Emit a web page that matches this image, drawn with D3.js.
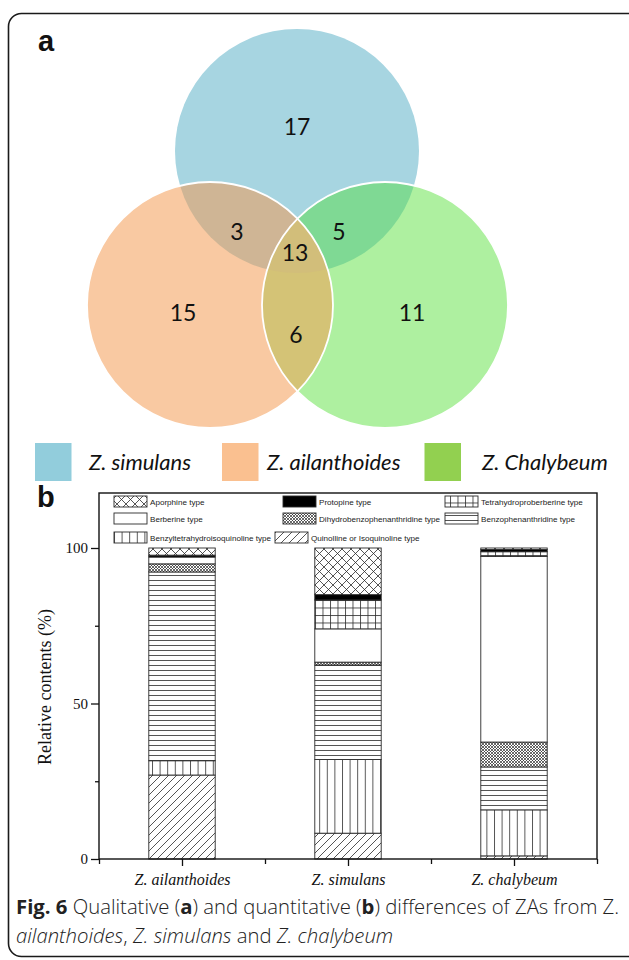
<!DOCTYPE html>
<html>
<head>
<meta charset="utf-8">
<script src="https://cdn.jsdelivr.net/npm/d3@7/dist/d3.min.js"></script>
<style>
  body { margin: 0; background: #fff; }
  svg { display: block; }
</style>
</head>
<body>
<svg id="fig" width="629" height="960"></svg>
<script>
// ---- panel a : venn counts ----
const vennSets = ["Z. simulans", "Z. ailanthoides", "Z. Chalybeum"];
const vennOnly = [17, 15, 11];           // simulans, ailanthoides, chalybeum
const vennPairs = [3, 5, 6];             // sim&ail, sim&cha, ail&cha
const vennAll = 13;
const vennColors = ["#a7d5e1", "#f9c9a2", "#aef0a0"];
const vennPairColors = ["#cfb595", "#7fd994", "#d4c376"];
const vennAllColor = "#d2be7a";
const vennLegendColors = ["#92cddc", "#fac090", "#92d050"];

// ---- panel b : relative contents (%) ----
const species = ["Z. ailanthoides", "Z. simulans", "Z. chalybeum"];
const types = ["Quinolline or Isoquinoline type", "Benzyltetrahydroisoquinoline type",
  "Benzophenanthridine type", "Dihydrobenzophenanthridine type", "Berberine type",
  "Tetrahydroproberberine type", "Protopine type", "Aporphine type"];
const quinolline = [27.0, 8.3, 1.0];
const benzyltetrahydro = [4.6, 23.7, 14.8];
const benzophenanthridine = [60.7, 30.4, 13.8];
const dihydrobenzo = [2.6, 0.9, 8.0];
const berberine = [2.2, 10.7, 59.7];
const tetrahydroprob = [0.0, 9.3, 1.5];
const protopine = [0.6, 1.7, 0.7];
const aporphine = [2.3, 15.0, 0.5];
const yTicks = [0, 50, 100];
const yMinor = [25, 75];
// legend reading order (as in the figure)
const legendOrder = ["Aporphine type", "Protopine type", "Tetrahydroproberberine type",
  "Berberine type", "Dihydrobenzophenanthridine type", "Benzophenanthridine type",
  "Benzyltetrahydroisoquinoline type", "Quinolline or Isoquinoline type"];

const svg = d3.select("#fig");
const defs = svg.append("defs");

// outer rounded frame
svg.append("rect")
  .attr("x", 8.5).attr("y", 13.5).attr("width", 660).attr("height", 943)
  .attr("rx", 13).attr("fill", "none").attr("stroke", "#1a1a1a").attr("stroke-width", 1.6);

// ================= panel a =================
const circles = [
  {cx: 297, cy: 151, r: 122},
  {cx: 210, cy: 305, r: 123},
  {cx: 385, cy: 305, r: 123}
];
circles.forEach((c, i) => {
  defs.append("clipPath").attr("id", "clip" + i)
    .append("circle").attr("cx", c.cx).attr("cy", c.cy).attr("r", c.r);
});
const va = svg.append("g");
va.selectAll("circle.base").data(circles).join("circle")
  .attr("class", "base")
  .attr("cx", d => d.cx).attr("cy", d => d.cy).attr("r", d => d.r)
  .attr("fill", (d, i) => vennColors[i]);
// pair overlaps
const pairs = [[0, 1], [0, 2], [1, 2]];
pairs.forEach((p, k) => {
  const c = circles[p[1]];
  va.append("g").attr("clip-path", `url(#clip${p[0]})`)
    .append("circle").attr("cx", c.cx).attr("cy", c.cy).attr("r", c.r)
    .attr("fill", vennPairColors[k]);
});
// triple overlap
va.append("g").attr("clip-path", "url(#clip0)")
  .append("g").attr("clip-path", "url(#clip1)")
  .append("circle").attr("cx", circles[2].cx).attr("cy", circles[2].cy).attr("r", circles[2].r)
  .attr("fill", vennAllColor);
// white outlines of the lower two sets
[1, 2].forEach(i => {
  const c = circles[i];
  va.append("circle").attr("cx", c.cx).attr("cy", c.cy).attr("r", c.r)
    .attr("fill", "none").attr("stroke", "#fff").attr("stroke-width", 1.8);
});

const vennLabels = [
  {v: vennOnly[0], x: 297, y: 126},
  {v: vennOnly[1], x: 183, y: 312},
  {v: vennOnly[2], x: 412, y: 312},
  {v: vennPairs[0], x: 237, y: 231},
  {v: vennPairs[1], x: 339, y: 231},
  {v: vennPairs[2], x: 296, y: 334},
  {v: vennAll, x: 295, y: 252}
];
va.selectAll("text.num").data(vennLabels).join("text")
  .attr("class", "num")
  .attr("x", d => d.x).attr("y", d => d.y + 8.5)
  .attr("text-anchor", "middle")
  .attr("font-family", "Lato, 'Open Sans', sans-serif")
  .attr("font-size", 23).attr("fill", "#111")
  .text(d => d.v);

svg.append("text").attr("x", 38).attr("y", 51)
  .attr("font-family", "'Liberation Sans', Arial, sans-serif")
  .attr("font-weight", "bold").attr("font-size", 29).attr("fill", "#111").text("a");

// venn legend
const vl = svg.append("g");
const vlX = [35, 222, 424.5];
const vlTextX = [89, 267, 482];
vennSets.forEach((s, i) => {
  vl.append("rect").attr("x", vlX[i]).attr("y", 443).attr("width", 36.5).attr("height", 38)
    .attr("fill", vennLegendColors[i]);
  vl.append("text").attr("x", vlTextX[i]).attr("y", 470)
    .attr("font-family", "Lato, 'Open Sans', sans-serif").attr("font-style", "italic")
    .attr("font-size", 22).attr("fill", "#111").text(s);
});

svg.append("text").attr("x", 37).attr("y", 507)
  .attr("font-family", "'Liberation Sans', Arial, sans-serif")
  .attr("font-weight", "bold").attr("font-size", 29).attr("fill", "#111").text("b");

// ================= panel b =================
const ink = "#2a2a2a";
function pat(id, w, h, draw) {
  const p = defs.append("pattern").attr("id", id)
    .attr("patternUnits", "userSpaceOnUse").attr("width", w).attr("height", h);
  p.append("rect").attr("width", w).attr("height", h).attr("fill", "#fff");
  draw(p);
}
pat("p-quin", 8, 8, p => p.append("path")
  .attr("d", "M0,8 L8,0 M-2,2 L2,-2 M6,10 L10,6")
  .attr("stroke", ink).attr("stroke-width", 0.8));
pat("p-benzyl", 7.6, 10, p => p.append("path")
  .attr("d", "M0.5,0 V10").attr("stroke", ink).attr("stroke-width", 0.8));
pat("p-benzoph", 10, 5, p => p.append("path")
  .attr("d", "M0,0.5 H10").attr("stroke", ink).attr("stroke-width", 0.8));
pat("p-dihydro", 3, 3, p => p.append("path")
  .attr("d", "M0,0 L3,3 M0,3 L3,0").attr("stroke", ink).attr("stroke-width", 0.7));
pat("p-thp", 7.5, 7.5, p => p.append("path")
  .attr("d", "M0.5,0 V7.5 M0,0.5 H7.5").attr("stroke", ink).attr("stroke-width", 0.8));
pat("p-apor", 9, 9, p => p.append("path")
  .attr("d", "M0,0 L9,9 M0,9 L9,0").attr("stroke", ink).attr("stroke-width", 0.8));

const fills = {
  "Quinolline or Isoquinoline type": "url(#p-quin)",
  "Benzyltetrahydroisoquinoline type": "url(#p-benzyl)",
  "Benzophenanthridine type": "url(#p-benzoph)",
  "Dihydrobenzophenanthridine type": "url(#p-dihydro)",
  "Berberine type": "#fff",
  "Tetrahydroproberberine type": "url(#p-thp)",
  "Protopine type": "#000",
  "Aporphine type": "url(#p-apor)"
};

const seriesArrays = [quinolline, benzyltetrahydro, benzophenanthridine, dihydrobenzo,
  berberine, tetrahydroprob, protopine, aporphine];
const rows = species.map((s, i) => {
  const r = {name: s, idx: i + 1};
  types.forEach((t, k) => { r[t] = seriesArrays[k][i]; });
  return r;
});

const plot = {left: 99, right: 597, top: 493, bottom: 859};
const x = d3.scaleLinear().domain([0.5, 3.5]).range([plot.left, plot.right]);
const y = d3.scaleLinear().domain([0, 100]).range([plot.bottom, 548]);
const barHalf = 0.2;

const gb = svg.append("g");
gb.append("g").selectAll("g")
  .data(d3.stack().keys(types)(rows))
  .join("g")
  .attr("fill", d => fills[d.key])
  .selectAll("rect")
  .data(d => d.filter(s => s[1] - s[0] > 0))
  .join("rect")
  .attr("x", d => x(d.data.idx - barHalf))
  .attr("width", d => x(d.data.idx + barHalf) - x(d.data.idx - barHalf))
  .attr("y", d => y(d[1]))
  .attr("height", d => y(d[0]) - y(d[1]))
  .attr("stroke", ink).attr("stroke-width", 0.9);

// frame
gb.append("rect")
  .attr("x", plot.left).attr("y", plot.top)
  .attr("width", plot.right - plot.left).attr("height", plot.bottom - plot.top)
  .attr("fill", "none").attr("stroke", "#111").attr("stroke-width", 1.4);

// y axis
const yAx = gb.append("g").attr("transform", `translate(${plot.left},0)`)
  .call(d3.axisLeft(y).tickValues(yTicks).tickSize(8).tickPadding(3));
gb.append("g").attr("transform", `translate(${plot.left},0)`)
  .call(d3.axisLeft(y).tickValues(yMinor).tickSize(4).tickFormat(""));
// x axis
const xAx = gb.append("g").attr("transform", `translate(0,${plot.bottom})`)
  .call(d3.axisBottom(x).tickValues([1, 2, 3]).tickSize(7).tickPadding(8)
    .tickFormat(d => species[d - 1]));
gb.append("g").attr("transform", `translate(0,${plot.bottom})`)
  .call(d3.axisBottom(x).tickValues([0.5, 1.5, 2.5, 3.5]).tickSize(5).tickFormat(""));
gb.selectAll(".domain").remove();
gb.selectAll(".tick line").attr("stroke", "#111").attr("stroke-width", 1.3);
yAx.selectAll("text").attr("font-family", "'Liberation Serif', 'Times New Roman', serif")
  .attr("font-size", 15).attr("fill", "#111");
xAx.selectAll("text").attr("font-family", "'Liberation Serif', 'Times New Roman', serif")
  .attr("font-style", "italic").attr("font-size", 16).attr("fill", "#111");

gb.append("text")
  .attr("transform", "translate(51,687) rotate(-90)")
  .attr("text-anchor", "middle")
  .attr("font-family", "'Liberation Serif', 'Times New Roman', serif")
  .attr("font-size", 18).attr("fill", "#111")
  .text("Relative contents (%)");

// legend inside the frame
const legendPos = [[114, 496], [283, 496], [445, 496],
                   [114, 513], [283, 513], [445, 513],
                   [114, 532], [275, 532]];
const lg = gb.append("g");
legendOrder.forEach((t, i) => {
  const [lx, ly] = legendPos[i];
  lg.append("rect").attr("x", lx).attr("y", ly).attr("width", 33).attr("height", 11)
    .attr("fill", fills[t]).attr("stroke", ink).attr("stroke-width", 0.9);
  lg.append("text").attr("x", lx + 36).attr("y", ly + 9)
    .attr("font-family", "'Liberation Sans', Arial, sans-serif")
    .attr("font-size", 8.1).attr("fill", "#222").text(t);
});

// ================= caption =================
const cap = svg.append("g")
  .attr("font-family", "'Open Sans', 'Noto Sans', sans-serif")
  .attr("font-size", 20.3).attr("fill", "#222");
const l1 = cap.append("text").attr("x", 16).attr("y", 914);
l1.append("tspan").attr("font-weight", "bold").text("Fig. 6");
l1.append("tspan").attr("font-weight", 300).text(" Qualitative (");
l1.append("tspan").attr("font-weight", "bold").text("a");
l1.append("tspan").attr("font-weight", 300).text(") and quantitative (");
l1.append("tspan").attr("font-weight", "bold").text("b");
l1.append("tspan").attr("font-weight", 300).text(") differences of ZAs from Z.");
const l2 = cap.append("text").attr("x", 16).attr("y", 943).attr("font-weight", 300);
l2.append("tspan").attr("font-style", "italic").text("ailanthoides");
l2.append("tspan").text(", ");
l2.append("tspan").attr("font-style", "italic").text("Z. simulans");
l2.append("tspan").text(" and ");
l2.append("tspan").attr("font-style", "italic").text("Z. chalybeum");
</script>
</body>
</html>
